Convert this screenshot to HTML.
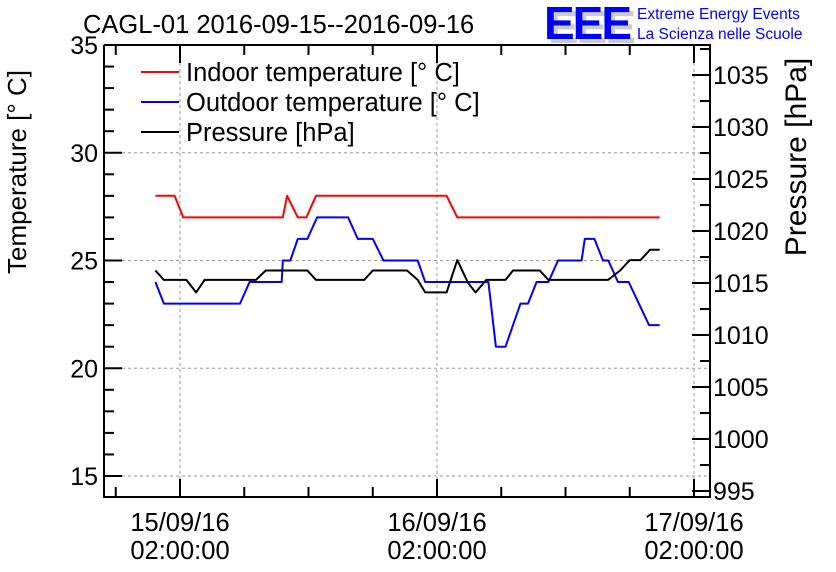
<!DOCTYPE html>
<html><head><meta charset="utf-8"><style>
html,body{margin:0;padding:0;background:#fff;}
svg{display:block;font-family:"Liberation Sans",sans-serif;}
</style></head><body>
<svg id="chart" width="836" height="572" viewBox="0 0 836 572">
<g id="grid"></g>
<g id="axes"></g>
<g id="series"></g>
<text x="83" y="33" font-size="25.5">CAGL-01 2016-09-15--2016-09-16</text>
<g>
<text x="548" y="43" font-size="46" font-weight="bold" fill="#ccc" letter-spacing="-2">EEE</text>
<text x="544" y="39" font-size="46" font-weight="bold" fill="#0000ff" letter-spacing="-2">EEE</text>
<text x="637" y="19" font-size="15.5" fill="#0000ff">Extreme Energy Events</text>
<text x="637" y="39" font-size="15.5" fill="#0000ff">La Scienza nelle Scuole</text>
</g>
<text transform="translate(26,172) rotate(-90)" text-anchor="middle" font-size="26">Temperature [° C]</text>
<text transform="translate(806,157) rotate(-90)" text-anchor="middle" font-size="30">Pressure [hPa]</text>
<g>
<line x1="141" y1="72" x2="179" y2="72" stroke="#ff0000" stroke-width="2"/>
<text x="186" y="81" font-size="25.5">Indoor temperature [° C]</text>
<line x1="141" y1="102" x2="179" y2="102" stroke="#0000ff" stroke-width="2"/>
<text x="186" y="111" font-size="25.5">Outdoor temperature [° C]</text>
<line x1="141" y1="132" x2="179" y2="132" stroke="#000" stroke-width="2"/>
<text x="186" y="141" font-size="25.5">Pressure [hPa]</text>
</g>
</svg>
<script>
// hours since 15/09/16 00:00
const indoorT=[-0.3,1.5,2.3,11.6,12.0,13.0,13.8,14.7,26.9,27.9,46.8];
const indoorV=[28,28,27,27,28,27,27,28,28,27,27];
const outdoorT=[-0.3,0.5,7.6,8.5,11.5,11.6,12.3,13.0,13.9,14.8,17.7,18.6,20.0,21.0,24.2,24.9,30.8,31.5,32.4,33.8,34.5,35.3,36.4,37.3,39.5,39.8,40.7,41.5,42.0,42.9,43.9,45.8,46.8];
const outdoorV=[24,23,23,24,24,25,25,26,26,27,27,26,26,25,25,24,24,21,21,23,23,24,24,25,25,26,26,25,25,24,24,22,22];
const pressT=[-0.3,0.5,2.6,3.5,4.3,9.1,10.0,13.9,14.7,19.2,20.0,23.2,24.2,24.9,26.9,27.9,28.9,29.6,30.6,32.4,33.1,35.6,36.4,41.97,43.1,44.0,45.0,45.9,46.8];
const pressV=[1016.2,1015.3,1015.3,1014.1,1015.3,1015.3,1016.2,1016.2,1015.3,1015.3,1016.2,1016.2,1015.3,1014.1,1014.1,1017.2,1015,1014.1,1015.3,1015.3,1016.2,1016.2,1015.3,1015.3,1016.2,1017.2,1017.2,1018.2,1018.2];
const xTickHours=[2,26,50];
const xTickLabels=[["15/09/16","02:00:00"],["16/09/16","02:00:00"],["17/09/16","02:00:00"]];
const tTicks=[15,20,25,30,35];
const pTicks=[995,1000,1005,1010,1015,1020,1025,1030,1035];

const L=104,R=710,T=45,B=497;
const xs=h=>180+(h-2)*257/24;
const yT=v=>476-(v-15)*21.55;
const yP=v=>283-(v-1015)*10.4;
const NS="http://www.w3.org/2000/svg";
function mk(parent,tag,attrs){const e=document.createElementNS(NS,tag);for(const k in attrs)e.setAttribute(k,attrs[k]);document.getElementById(parent).appendChild(e);return e;}

for(const h of xTickHours){const x=xs(h);const g=mk('grid','line',{x1:x,x2:x,y1:T,y2:B,stroke:'#999','stroke-dasharray':'3,3'});

}
for(const v of tTicks){const y=yT(v);if(y<=T+1)continue;const g=mk('grid','line',{x1:L,x2:R,y1:y,y2:y,stroke:'#999','stroke-dasharray':'3,3'});

}

const fr=mk('axes','path',{d:`M${L},${T} V${B} H${R} V${T} H${L}`,fill:'none',stroke:'#000','stroke-width':2});


for(let v=15;v<=35;v++){const y=yT(v);const major=v%5===0;mk('axes','line',{x1:L,x2:L+(major?18:10),y1:y,y2:y,stroke:'#000','stroke-width':2});}
for(const v of tTicks){const t=mk('axes','text',{x:L-6,y:yT(v)+9,'text-anchor':'end','font-size':25});t.textContent=v;

}
for(let v=995;v<=1037.5;v+=2.5){const y=yP(v);if(y<T||y>B)continue;const major=v%5===0;mk('axes','line',{x1:R,x2:R-(major?18:10),y1:y,y2:y,stroke:'#000','stroke-width':2});}
for(const v of pTicks){const t=mk('axes','text',{x:R+3,y:yP(v)+9,'font-size':25});t.textContent=v;

}
for(let h=-4;h<=50;h+=6){const x=xs(h);if(x<L||x>R)continue;const major=(h-2)%24===0;
mk('axes','line',{x1:x,x2:x,y1:B,y2:B-(major?18:10),stroke:'#000','stroke-width':2});
mk('axes','line',{x1:x,x2:x,y1:T,y2:T+(major?18:10),stroke:'#000','stroke-width':2});}
xTickHours.forEach((h,i)=>{for(let j=0;j<2;j++){const t=mk('axes','text',{x:xs(h),y:531+j*28,'text-anchor':'middle','font-size':25.5});t.textContent=xTickLabels[i][j];

}});

function line(ts,vs,yf,color,name){const d=ts.map((t,i)=>(i?'L':'M')+xs(t).toFixed(1)+','+yf(vs[i]).toFixed(1)).join(' ');
const p=mk('series','path',{d:d,fill:'none',stroke:color,'stroke-width':2,'stroke-linejoin':'round'});

}
line(indoorT,indoorV,yT,'#ff0000','indoor-temperature-line');
line(outdoorT,outdoorV,yT,'#0000ff','outdoor-temperature-line');
line(pressT,pressV,yP,'#000000','pressure-line');
</script>
</body></html>
